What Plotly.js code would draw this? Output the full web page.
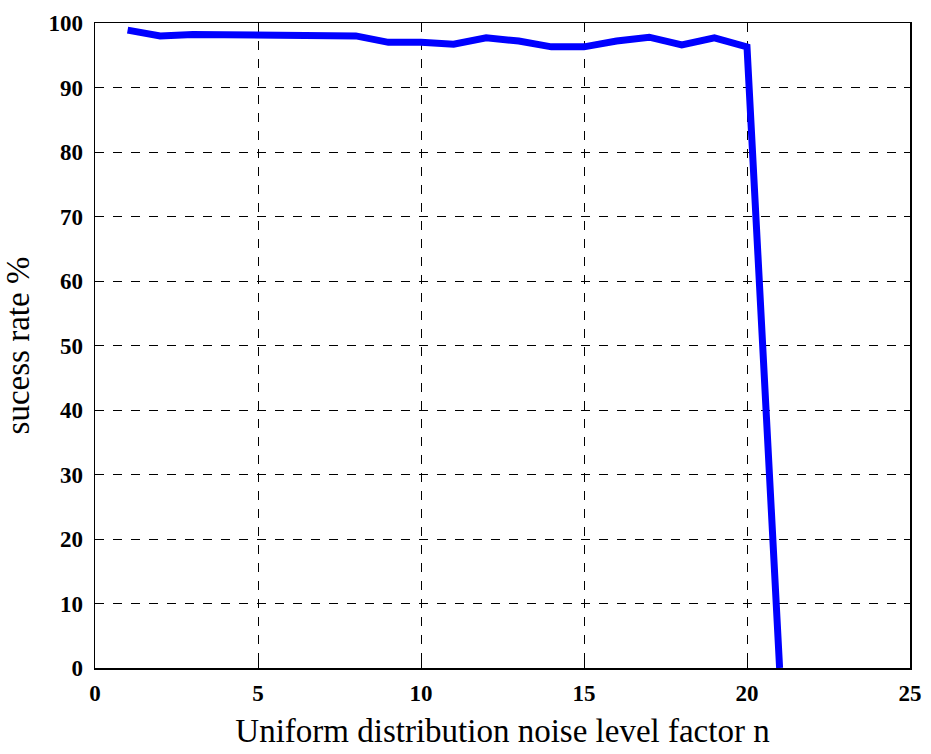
<!DOCTYPE html>
<html>
<head>
<meta charset="utf-8">
<script src="https://cdn.plot.ly/plotly-3.0.1.min.js"></script>
<style>body{margin:0;padding:0;background:#fff}#chart{width:931px;height:754px}</style>
</head>
<body>
<div id="chart"></div>
<script>
var noiseFactor = [1,2,3,4,5,6,7,8,9,10,11,12,13,14,15,16,17,18,19,20,21];
var successRate = [98.9,98.0,98.2,98.2,98.2,98.2,98.0,98.0,97.0,97.0,96.7,97.7,97.2,96.3,96.3,97.2,97.8,96.6,97.7,96.3,0];
var xTicks = [0,5,10,15,20,25];
var yTicks = [0,10,20,30,40,50,60,70,80,90,100];

var trace = {
  x: noiseFactor, y: successRate, type: 'scatter', mode: 'lines',
  line: {color: '#0000FF', width: 7}, hoverinfo: 'skip'
};
var axisCommon = {
  showline: true, linecolor: '#000', linewidth: 1.5, mirror: 'ticks',
  ticks: 'inside', ticklen: 6, tickcolor: '#000', tickwidth: 1,
  showgrid: true, gridcolor: '#000', griddash: 'dash', gridwidth: 1,
  zeroline: false,
  tickfont: {family: 'Liberation Serif, Times New Roman, serif', size: 23, color: '#000', weight: 'bold'}
};
var layout = {
  width: 931, height: 754,
  margin: {l: 95, r: 21, t: 23, b: 86},
  paper_bgcolor: '#fff', plot_bgcolor: '#fff',
  showlegend: false,
  xaxis: Object.assign({}, axisCommon, {
    range: [0, 25], tickvals: xTicks, ticktext: xTicks.map(String),
    ticklabelstandoff: 4,
    title: {text: 'Uniform distribution noise level factor n', standoff: 14,
      font: {family: 'Liberation Serif, Times New Roman, serif', size: 33, color: '#000'}}
  }),
  yaxis: Object.assign({}, axisCommon, {
    range: [0, 100], tickvals: yTicks, ticktext: yTicks.map(String),
    ticklabelstandoff: 6,
    title: {text: 'sucess rate %', standoff: 12,
      font: {family: 'Liberation Serif, Times New Roman, serif', size: 33, color: '#000'}}
  })
};
Plotly.newPlot('chart', [trace], layout, {displayModeBar: false, staticPlot: true});
</script>
</body>
</html>
